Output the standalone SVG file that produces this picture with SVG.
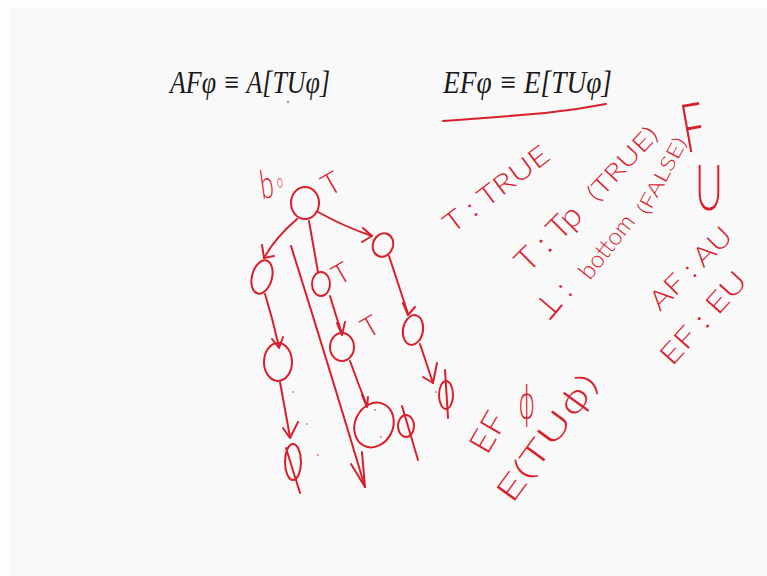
<svg xmlns="http://www.w3.org/2000/svg" width="767" height="576" viewBox="0 0 767 576">
<style>
.ink{fill:none;stroke:#d8202c;stroke-width:2;stroke-linecap:round;stroke-linejoin:round}
.hw{fill:#d8202c;font-family:"Lato","Open Sans","Liberation Sans",sans-serif;font-weight:300}
.ph{fill:#d8202c;font-family:"DejaVu Sans","Liberation Sans",sans-serif;font-weight:200}
.math{fill:#1a1a1a;font-family:"Liberation Serif","Times New Roman",serif;font-style:italic;font-size:32px}
.dot{fill:#e07a80}
</style>
<rect width="767" height="576" fill="#fdfdfd"/>
<rect x="10" y="7" width="757" height="569" fill="#f9f9f9"/>

<g id="titles">
<text class="math" x="170" y="93" textLength="160" lengthAdjust="spacingAndGlyphs">AFφ ≡ A[TUφ]</text>
<text class="math" x="443" y="93" textLength="169" lengthAdjust="spacingAndGlyphs">EFφ ≡ E[TUφ]</text>
<circle class="dot" cx="288" cy="102" r="1.2"/>
<path class="ink" d="M443,121 Q500,117 545,113 Q575,110 606,104"/>
</g>

<g id="connectors">
<path class="ink" d="M297,219 Q275,238 264,258"/>
<path class="ink" d="M262,245 L264,258 L274,256"/>
<path class="ink" d="M309,221 L318,272"/>
<path class="ink" d="M318,212 Q345,227 372,236"/>
<path class="ink" d="M363,228 L372,236 L362,242"/>
<path class="ink" d="M291,246 Q330,370 365,487"/>
<path class="ink" d="M351,464 L365,487 L362,452"/>
<path class="ink" d="M265,294 Q273,320 279,347"/>
<path class="ink" d="M272,339 L279,348 L283,337"/>
<path class="ink" d="M280,382 Q285,410 290,437"/>
<path class="ink" d="M283,428 L290,438 L298,422"/>
<path class="ink" d="M330,296 Q336,316 342,334"/>
<path class="ink" d="M337,323 L342,335 L345,322"/>
<path class="ink" d="M350,361 Q358,383 367,406"/>
<path class="ink" d="M362,395 L367,407 L368,397"/>
<path class="ink" d="M389,256 Q398,283 408,314"/>
<path class="ink" d="M403,303 L408,315 L415,307"/>
<path class="ink" d="M420,344 Q426,362 433,383"/>
<path class="ink" d="M423,377 L433,383 L437,363"/>
</g>

<g id="s0">
<ellipse class="ink" cx="305" cy="203" rx="14" ry="16"/>
<text class="hw" font-size="40" transform="translate(262,199) rotate(-8) scale(0.6,1)">b<tspan font-size="18" dx="6" dy="-9">o</tspan></text>
<text class="hw" font-size="30" transform="translate(329,197) rotate(-30)">T</text>
</g>

<g id="n-left1">
<ellipse class="ink" cx="262" cy="277" rx="10" ry="17" transform="rotate(15 262 277)"/>
</g>
<g id="n-mid1">
<ellipse class="ink" cx="321" cy="284" rx="9" ry="12"/>
<text class="hw" font-size="28" transform="translate(339,286) rotate(-30)">T</text>
</g>
<g id="n-right1">
<ellipse class="ink" cx="383" cy="245" rx="10" ry="12" transform="rotate(20 383 245)"/>
</g>
<g id="n-left2">
<ellipse class="ink" cx="278" cy="362" rx="14" ry="19"/>
<circle class="dot" cx="293" cy="392" r="1"/>
<circle class="dot" cx="307" cy="424" r="1"/>
<circle class="dot" cx="318" cy="455" r="1"/>
</g>
<g id="n-mid2">
<ellipse class="ink" cx="342" cy="347" rx="12" ry="14"/>
<text class="hw" font-size="28" transform="translate(368,339) rotate(-30)">T</text>
</g>
<g id="n-right2">
<ellipse class="ink" cx="413" cy="330" rx="10" ry="15" transform="rotate(10 413 330)"/>
</g>
<g id="n-big">
<ellipse class="ink" cx="374" cy="425" rx="19" ry="23" transform="rotate(25 374 425)"/>
<circle class="dot" cx="375" cy="410" r="1"/>
<circle class="dot" cx="381" cy="437" r="1"/>
</g>
<g id="phi-left">
<ellipse class="ink" cx="293" cy="462" rx="8" ry="18"/>
<path class="ink" d="M286,448 L300,493"/>
</g>
<g id="phi-mid">
<ellipse class="ink" cx="406" cy="426" rx="8" ry="11"/>
<path class="ink" d="M402,406 L418,460"/>
</g>
<g id="phi-right">
<ellipse class="ink" cx="446" cy="395" rx="7" ry="14"/>
<path class="ink" d="M445,370 L448,418"/>
<circle class="dot" cx="436" cy="392" r="1"/>
</g>

<g id="notes">
<text class="hw" font-size="27" textLength="125" lengthAdjust="spacingAndGlyphs" transform="translate(452,234) rotate(-37)">T : TRUE</text>
<text class="hw" font-size="32" textLength="80" lengthAdjust="spacingAndGlyphs" transform="translate(528,274) rotate(-45)">T : Tp</text>
<text class="hw" font-size="24" textLength="92" lengthAdjust="spacingAndGlyphs" transform="translate(597,203) rotate(-47)">(TRUE)</text>
<text class="hw" font-size="32" textLength="38" lengthAdjust="spacingAndGlyphs" transform="translate(549,322) rotate(-50)">⊥ :</text>
<text class="hw" font-size="24" textLength="75" lengthAdjust="spacingAndGlyphs" transform="translate(590,281) rotate(-52)">bottom</text>
<text class="hw" font-size="20" textLength="84" lengthAdjust="spacingAndGlyphs" transform="translate(648,216) rotate(-62)">(FALSE)</text>
<text class="hw" font-size="68" transform="translate(686,153) rotate(-10) scale(0.6,1)">F</text>
<text class="hw" font-size="64" transform="translate(695,210) scale(0.6,1)">U</text>
<text class="hw" font-size="27" textLength="105" lengthAdjust="spacingAndGlyphs" transform="translate(660,312) rotate(-45)">AF : AU</text>
<text class="hw" font-size="28" textLength="115" lengthAdjust="spacingAndGlyphs" transform="translate(672,367) rotate(-48)">EF : EU</text>
<text class="hw" font-size="32" textLength="42" lengthAdjust="spacingAndGlyphs" transform="translate(487,456) rotate(-60)">EF</text>
<text class="ph" font-size="44" transform="translate(518,418) scale(0.6,1)">ϕ</text>
<text class="hw" font-size="32" textLength="150" lengthAdjust="spacingAndGlyphs" transform="translate(512,505) rotate(-54)">E(TU<tspan class="ph">ϕ</tspan>)</text>
</g>
</svg>
